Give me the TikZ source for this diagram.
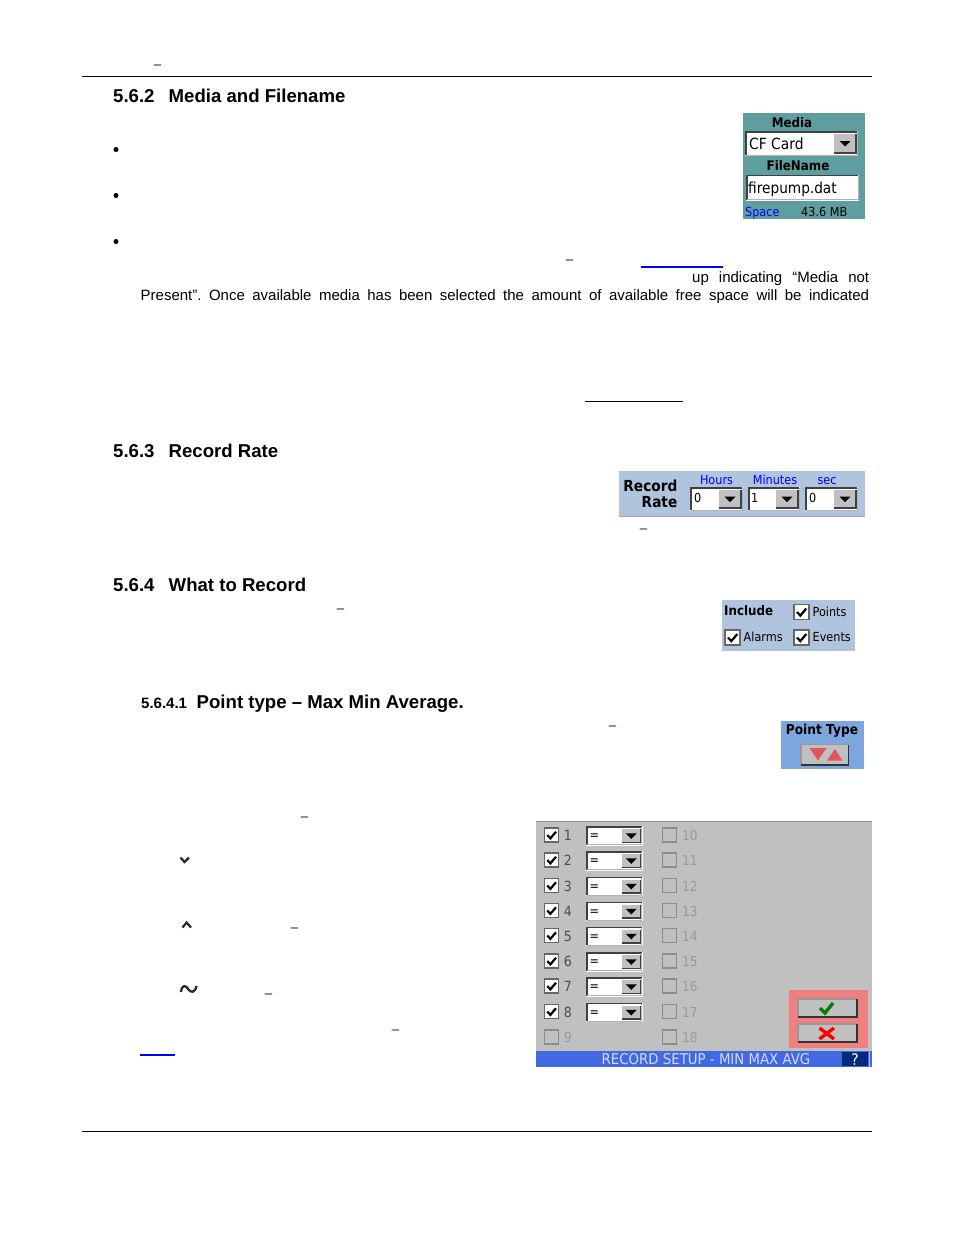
\documentclass[tikz,border=0pt]{standalone}
\usepackage{fontspec}
\setmainfont{Liberation Sans}
\newfontfamily\uifont[FakeStretch=0.9]{DejaVu Sans}
\definecolor{cadet}{HTML}{5F9EA0}
\definecolor{steel}{HTML}{B0C4DE}
\definecolor{cornflower}{HTML}{7DA5DE}
\definecolor{wingray}{HTML}{C0C0C0}
\definecolor{titlebar}{HTML}{4169E1}
\definecolor{salmon}{HTML}{F08080}
\definecolor{dashgray}{HTML}{707070}
\definecolor{navyq}{HTML}{002A80}
\definecolor{softred}{HTML}{E0555F}
\tikzset{
  rulebar/.style={black,line width=0.8pt},
  headtext/.style={anchor=base west,inner sep=0,font=\fontsize{18.6}{20}\selectfont\bfseries},
  bodytext/.style={anchor=base west,inner sep=0,font=\fontsize{15}{18}\selectfont},
  endash/.style={anchor=base,inner sep=0,text=dashgray,font=\fontsize{15}{18}\selectfont\bfseries},
  bullet/.style={circle,fill=black,inner sep=0,minimum size=5pt},
  uitext/.style={anchor=base west,inner sep=0,font=\uifont\fontsize{12.5}{14}\selectfont},
  uibold/.style={anchor=base,inner sep=0,font=\uifont\fontsize{13.2}{14}\selectfont\bfseries},
  disabled/.style={text=black!40},
}
% sunken box: x1,y1,x2,y2
\newcommand\sunken[4]{%
  \fill[white] (#1-1,#2-1) rectangle (#3+1,#4+1);
  \fill[white] (#1,#2) rectangle (#3,#4);
  \draw[black!75,line width=1.7pt] (#1,#4) -- (#1,#2) -- (#3,#2);
  \draw[black!30,line width=1pt] (#3,#2) -- (#3,#4) -- (#1,#4);}
% combo box: x1,y1,x2,y2,button left
\newcommand\uicombo[5]{%
  \sunken{#1}{#2}{#3}{#4}
  \fill[wingray] (#5,#2+2) rectangle (#3-1,#4-2);
  \draw[black!75,line width=1.5pt] (#5,#4-2) -- (#3-1,#4-2) -- (#3-1,#2+2);
  \fill[black] ({(#5+#3)/2-6},{(#2+#4)/2-2.5}) -- ({(#5+#3)/2+5},{(#2+#4)/2-2.5}) -- ({(#5+#3)/2-0.5},{(#2+#4)/2+3}) -- cycle;}
% checkbox: x1,y1,size
\newcommand\uicheck[3]{%
  \fill[white] (#1,#2) rectangle ++(#3,#3);
  \draw[black!60,line width=1.6pt] (#1,#2) rectangle ++(#3,#3);
  \draw[black,line width=2.2pt] (#1+0.2*#3,#2+0.5*#3) -- (#1+0.42*#3,#2+0.74*#3) -- (#1+0.82*#3,#2+0.27*#3);}
\newcommand\uiempty[3]{%
  \draw[black!45,line width=1.4pt] (#1,#2) rectangle ++(#3,#3);}
\newcommand\winbutton[4]{%
  \fill[wingray] (#1,#2) rectangle (#3,#4);
  \draw[black!40,line width=1.2pt] (#1,#4) -- (#1,#2) -- (#3,#2);
  \draw[black!80,line width=1.4pt] (#1,#4) -- (#3,#4) -- (#3,#2);}
\begin{document}
\begin{tikzpicture}[x=1pt,y=-1pt]
\useasboundingbox (0,0) rectangle (954,1235);
\fill[white] (0,0) rectangle (954,1235);
% page frame
\coordinate (headL) at (82,76.5); \coordinate (headR) at (872,76.5);
\coordinate (footL) at (82,1131.5); \coordinate (footR) at (872,1131.5);
\draw[rulebar] (headL) -- (headR);
\draw[rulebar] (footL) -- (footR);
\node[endash] (d0) at (157.5,69) {–};
% headings
\node[headtext] (h562n) at (113,102) {5.6.2};
\node[headtext] (h562) at (168.5,102) {Media and Filename};
\node[headtext] (h563n) at (113,457) {5.6.3};
\node[headtext] (h563) at (168.5,457) {Record Rate};
\node[headtext] (h564n) at (113,591) {5.6.4};
\node[headtext] (h564) at (168.5,591) {What to Record};
\node[anchor=base west,inner sep=0,font=\fontsize{15}{15}\selectfont\bfseries] (h5641n) at (141,708) {5.6.4.1};
\node[anchor=base west,inner sep=0,font=\fontsize{18.6}{20}\selectfont\bfseries] (h5641) at (196.5,708) {Point type – Max Min Average.};
% bullets
\node[bullet] (b1) at (116,149.5) {};
\node[bullet] (b2) at (116,195.5) {};
\node[bullet] (b3) at (116,241.5) {};
% body
\node[endash] (d1) at (569.5,264.5) {–};
\draw[blue,line width=1.2pt] (641,267) -- (723,267);
\node[bodytext] (t1) at (692,282) {\makebox[177pt][s]{up indicating “Media not}};
\node[bodytext] (t2) at (140.5,300) {\frenchspacing\makebox[728.5pt][s]{Present”. Once available media has been selected the amount of available free space will be indicated}};
\draw[black,line width=0.8pt] (585,401.5) -- (683,401.5);
\node[endash] (d2) at (643.5,533.5) {–};
\node[endash] (d3) at (340.5,613.5) {–};
\node[endash] (d4) at (612.5,730.5) {–};
\node[endash] (d5) at (304.5,821) {–};
\node[endash] (d6) at (294.5,932) {–};
\node[endash] (d7) at (268.5,998) {–};
\node[endash] (d8) at (395.5,1034) {–};
\draw[blue,line width=1.2pt] (140,1055) -- (175,1055);
% small glyphs
\draw[black!85,line width=2.2pt] (180.5,857.5) -- (184.5,862) -- (189,857.5);
\draw[black!85,line width=2.2pt] (182.5,927.5) -- (186.5,922.5) -- (191,927.5);
\draw[black!85,line width=2.2pt] (181,992) .. controls (182,984) and (186,985) .. (188.5,989.5) .. controls (191,993) and (195,993) .. (196.5,986);
% Media panel
\fill[cadet] (743,113) rectangle (865,219);
\node[uibold] (mediaL) at (792,127) {Media};
\uicombo{746}{132}{857}{155}{834}
\node[uitext,font=\uifont\fontsize{15.4}{16}\selectfont] (cf) at (749,149) {CF Card};
\node[uibold] (fileL) at (798,170) {FileName};
\sunken{747}{175.5}{858}{199.5}
\node[uitext,font=\uifont\fontsize{15.2}{16}\selectfont] (fp) at (748,193) {firepump.dat};
\node[uitext,text=blue] (space) at (745,216) {Space};
\node[uitext] (mb) at (801,216) {43.6 MB};
% Record rate panel
\fill[steel] (619,471) rectangle (865,517);
\fill[black!35] (619,515.5) rectangle (865,517);
\node[uibold,anchor=base east,font=\uifont\fontsize{15.2}{16}\selectfont\bfseries] (rec) at (677.5,491) {Record};
\node[uibold,anchor=base east,font=\uifont\fontsize{15.2}{16}\selectfont\bfseries] (rate) at (677.5,507.5) {Rate};
\node[uitext,anchor=base,text=blue] (hrs) at (716.5,484) {Hours};
\node[uitext,anchor=base,text=blue] (mins) at (775,484) {Minutes};
\node[uitext,anchor=base,text=blue] (secs) at (827,484) {sec};
\uicombo{691}{488}{742}{510}{719}
\uicombo{749}{488}{799}{510}{776}
\uicombo{806}{488}{857}{510}{834}
\node[uitext] (v0) at (694,502.5) {0};
\node[uitext] (v1) at (751,502.5) {1};
\node[uitext] (v2) at (809,502.5) {0};
% Include panel
\fill[steel] (722,600) rectangle (855,651);
\node[uibold,anchor=base west] (incl) at (724,615) {Include};
\uicheck{794}{604.5}{15}
\uicheck{725}{630}{15}
\uicheck{794}{630}{15}
\node[uitext] (pts) at (812.5,616) {Points};
\node[uitext] (alm) at (743.5,641.5) {Alarms};
\node[uitext] (evt) at (812.5,641.5) {Events};
% Point type panel
\fill[cornflower] (781,721) rectangle (864,769);
\node[uibold,font=\uifont\fontsize{13.6}{14}\selectfont\bfseries] (ptl) at (822,734) {Point Type};
\winbutton{801}{744.5}{848.5}{765}
\fill[softred] (809.5,748) -- (826.5,748) -- (818,760.5) -- cycle;
\fill[softred] (827,760.5) -- (842.5,760.5) -- (835,749) -- cycle;
% Big panel
\fill[wingray] (536,821) rectangle (872,1067);
\draw[black!45,line width=0.8pt] (536,821.5) -- (872,821.5);
\foreach \r/\y in {1/835.5,2/860.5,3/886,4/911,5/936,6/961.5,7/986.5,8/1012}{
  \uicheck{544.5}{\y-7.5}{14}
  \node[uitext,text=black!70,anchor=base,font=\uifont\fontsize{14}{15}\selectfont] (n\r) at (568,\y+5) {\r};
  \uicombo{587}{\y-8.5}{641.5}{\y+9}{622}
  \node[uitext] (eq\r) at (589.5,\y+4) {=};
}
\uiempty{544.5}{1030}{14}
\node[uitext,disabled,anchor=base,font=\uifont\fontsize{14}{15}\selectfont] (n9) at (568,1042.5) {9};
\foreach \r/\y in {10/835.5,11/860.5,12/886,13/911,14/936,15/961.5,16/986.5,17/1012,18/1037.5}{
  \uiempty{662.5}{\y-7.5}{14}
  \node[uitext,disabled,font=\uifont\fontsize{13.6}{15}\selectfont] (n\r) at (682,\y+5) {\r};
}
\fill[salmon] (789,990) rectangle (868,1048);
\winbutton{798}{999}{857}{1017}
\winbutton{798}{1024}{857}{1042}
\draw[green!50!black,line width=3.4pt] (820,1008) -- (825,1013) -- (833,1003);
\draw[red,line width=3.4pt] (819.5,1028) -- (834,1039);
\draw[red,line width=3.4pt] (834,1028) -- (819.5,1039);
\fill[titlebar] (536,1051) rectangle (872,1067);
\node[uitext,anchor=base,text=white!85!blue,font=\uifont\fontsize{14.8}{15}\selectfont] (ttl) at (706,1064) {RECORD SETUP - MIN MAX AVG};
\fill[navyq] (842,1052) rectangle (868,1066);
\draw[white!75!blue,line width=1pt] (869.5,1051) -- (869.5,1067);
\node[uitext,anchor=base,text=white,font=\uifont\fontsize{16}{16}\selectfont] (qm) at (855,1065) {?};
\end{tikzpicture}
\end{document}
